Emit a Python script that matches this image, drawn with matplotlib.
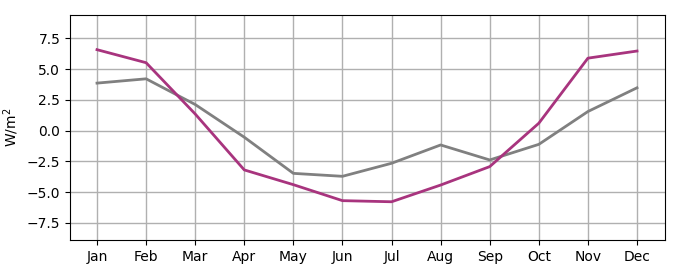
import matplotlib
matplotlib.use("Agg")
import matplotlib.pyplot as plt

months = ["Jan", "Feb", "Mar", "Apr", "May", "Jun", "Jul", "Aug", "Sep", "Oct", "Nov", "Dec"]
series_magenta = [6.58, 5.52, 1.35, -3.2, -4.4, -5.7, -5.79, -4.43, -2.93, 0.6, 5.89, 6.47]
series_gray = [3.86, 4.21, 2.12, -0.54, -3.48, -3.72, -2.66, -1.17, -2.39, -1.12, 1.55, 3.48]

fig = plt.figure(figsize=(6.8, 2.8), dpi=100)
ax = fig.add_axes([70/680, 40/280, 595/680, 225/280])
x = range(len(months))
ax.plot(x, series_gray, color="#808080", lw=2)
ax.plot(x, series_magenta, color="#a8347e", lw=2)
ax.set_xticks(list(x))
ax.set_xticklabels(months)
ax.set_xlim(-0.55, 11.57)
ax.set_ylim(-8.9, 9.4)
ax.set_yticks([-7.5, -5.0, -2.5, 0.0, 2.5, 5.0, 7.5])
ax.grid(True, color="#b0b0b0", lw=1)
ax.set_axisbelow(True)
ax.set_ylabel("W/m$^2$")
fig.savefig("out.png", dpi=100)
